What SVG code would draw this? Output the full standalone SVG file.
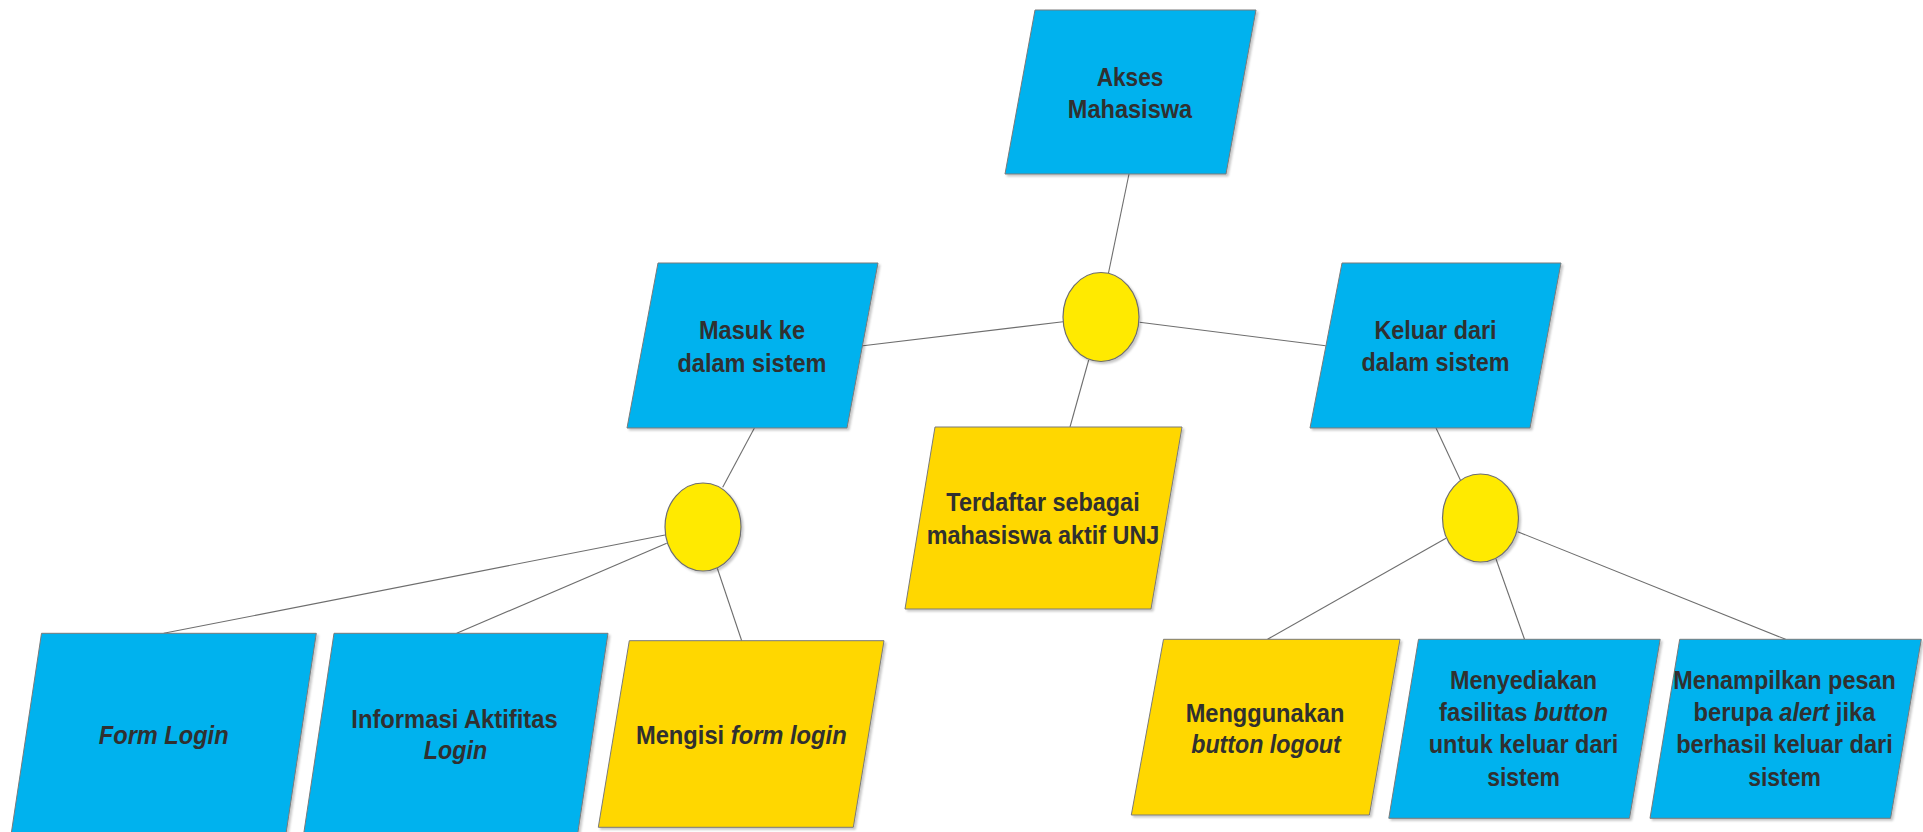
<svg xmlns="http://www.w3.org/2000/svg" width="1923" height="832" viewBox="0 0 1923 832">
<defs>
<filter id="sh" x="-10%" y="-10%" width="120%" height="120%">
<feDropShadow dx="2" dy="2" stdDeviation="1.2" flood-color="#000" flood-opacity="0.22"/>
</filter>
<style>
.blue{fill:#00b2ee;stroke:#7a7a7a;stroke-width:1;filter:url(#sh)}
.gold{fill:#ffd700;stroke:#7a7a7a;stroke-width:1;filter:url(#sh)}
.circ{fill:#ffea00;stroke:#6e6e6e;stroke-width:1.2;filter:url(#sh)}
.t{font-family:"Liberation Sans",Arial,sans-serif;font-weight:bold;font-size:26px;fill:#303030;text-anchor:middle}
.s{font-size:25px}
.i{font-style:italic}
.conn line{stroke:#6e6e6e;stroke-width:1.1}
</style>
</defs>
<rect width="1923" height="832" fill="#ffffff"/>
<g id="connectors" class="conn">
<line x1="1129" y1="174" x2="1108.5" y2="273"/>
<line x1="1063" y1="321.7" x2="863" y2="345.7"/>
<line x1="1139.6" y1="322.3" x2="1325.7" y2="345.7"/>
<line x1="1088.7" y1="360" x2="1070" y2="427"/>
<line x1="754.4" y1="428" x2="722.7" y2="487.3"/>
<line x1="665" y1="535" x2="163.7" y2="633.3"/>
<line x1="666.7" y1="543.3" x2="456.7" y2="633.3"/>
<line x1="717.3" y1="568.3" x2="741.7" y2="640.7"/>
<line x1="1436" y1="428" x2="1460.7" y2="480.7"/>
<line x1="1446" y1="538.3" x2="1267.5" y2="639.3"/>
<line x1="1496" y1="559" x2="1524.5" y2="639.3"/>
<line x1="1517.7" y1="531.7" x2="1785.6" y2="639.3"/>
</g>
<g id="akses">
<polygon class="blue" points="1035,10 1256,10 1226,174 1005,174"/>
<text class="t" x="1130" y="86" textLength="66.7" lengthAdjust="spacingAndGlyphs">Akses</text>
<text class="t" x="1130" y="118" textLength="124.3" lengthAdjust="spacingAndGlyphs">Mahasiswa</text>
</g>
<g id="junction-top">
<ellipse class="circ" cx="1101" cy="317" rx="38" ry="44.5"/>
</g>
<g id="masuk">
<polygon class="blue" points="658,263 878,263 847,428 627,428"/>
<text class="t" x="752" y="339" textLength="106" lengthAdjust="spacingAndGlyphs">Masuk ke</text>
<text class="t" x="752" y="371.5" textLength="149" lengthAdjust="spacingAndGlyphs">dalam sistem</text>
</g>
<g id="keluar">
<polygon class="blue" points="1342,263 1561,263 1530,428 1310,428"/>
<text class="t" x="1435.5" y="338.5" textLength="122" lengthAdjust="spacingAndGlyphs">Keluar dari</text>
<text class="t" x="1435.5" y="370.5" textLength="148" lengthAdjust="spacingAndGlyphs">dalam sistem</text>
</g>
<g id="terdaftar">
<polygon class="gold" points="935,427 1182,427 1151,609 905,609"/>
<text class="t" x="1043" y="511" textLength="193.3" lengthAdjust="spacingAndGlyphs">Terdaftar sebagai</text>
<text class="t" x="1043" y="544" textLength="232.7" lengthAdjust="spacingAndGlyphs">mahasiswa aktif UNJ</text>
</g>
<g id="junction-left">
<ellipse class="circ" cx="703" cy="527" rx="38" ry="44"/>
</g>
<g id="junction-right">
<ellipse class="circ" cx="1480.5" cy="518" rx="38" ry="44"/>
</g>
<g id="form-login">
<polygon class="blue" points="41.5,633.3 316.3,633.3 284.3,845 9.5,845"/>
<text class="t i" x="163.7" y="744" textLength="129.7" lengthAdjust="spacingAndGlyphs">Form Login</text>
</g>
<g id="informasi">
<polygon class="blue" points="334,633.3 608,633.3 576,845 302,845"/>
<text class="t" x="454.5" y="728.3" textLength="206.4" lengthAdjust="spacingAndGlyphs">Informasi Aktifitas</text>
<text class="t i" x="455.5" y="759.3" textLength="63.3" lengthAdjust="spacingAndGlyphs">Login</text>
</g>
<g id="mengisi">
<polygon class="gold" points="629.3,640.7 884,640.7 853.3,827.3 598.3,827.3"/>
<text class="t" x="741.3" y="744" textLength="210.7" lengthAdjust="spacingAndGlyphs">Mengisi <tspan class="i">form login</tspan></text>
</g>
<g id="menggunakan">
<polygon class="gold" points="1163.5,639.3 1400,639.3 1369.4,815 1131.3,815"/>
<text class="t s" x="1265" y="721.7" textLength="158.7" lengthAdjust="spacingAndGlyphs">Menggunakan</text>
<text class="t s i" x="1266" y="752.7" textLength="149.5" lengthAdjust="spacingAndGlyphs">button logout</text>
</g>
<g id="menyediakan">
<polygon class="blue" points="1418.5,639.3 1660.2,639.3 1629.5,818.3 1388.8,818.3"/>
<text class="t s" x="1523.5" y="689.3" textLength="147" lengthAdjust="spacingAndGlyphs">Menyediakan</text>
<text class="t s" x="1523.5" y="721" textLength="169" lengthAdjust="spacingAndGlyphs">fasilitas <tspan class="i">button</tspan></text>
<text class="t s" x="1523.5" y="753.3" textLength="189.5" lengthAdjust="spacingAndGlyphs">untuk keluar dari</text>
<text class="t s" x="1523.5" y="785.7" textLength="72.7" lengthAdjust="spacingAndGlyphs">sistem</text>
</g>
<g id="menampilkan">
<polygon class="blue" points="1679.7,639.3 1921.3,639.3 1890.6,818.3 1650,818.3"/>
<text class="t s" x="1784.5" y="689.3" textLength="222.7" lengthAdjust="spacingAndGlyphs">Menampilkan pesan</text>
<text class="t s" x="1784.5" y="721" textLength="181.8" lengthAdjust="spacingAndGlyphs">berupa <tspan class="i">alert</tspan> jika</text>
<text class="t s" x="1784.5" y="753.3" textLength="216.6" lengthAdjust="spacingAndGlyphs">berhasil keluar dari</text>
<text class="t s" x="1784.5" y="785.7" textLength="72.7" lengthAdjust="spacingAndGlyphs">sistem</text>
</g>
</svg>
